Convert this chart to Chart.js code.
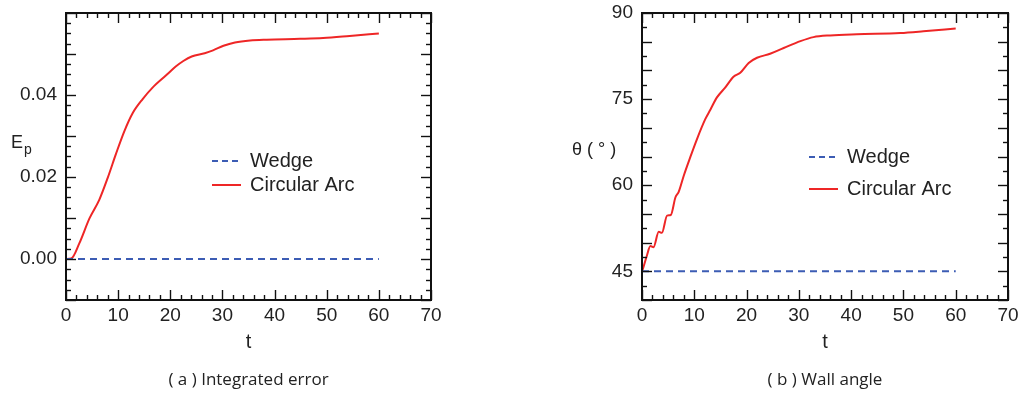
<!DOCTYPE html>
<html>
<head>
<meta charset="utf-8">
<script src="https://cdn.jsdelivr.net/npm/chart.js@4.4.1/dist/chart.umd.min.js"></script>
<style>
  html,body{margin:0;padding:0;background:#fff;}
  #wrap{position:relative;width:1023px;height:398px;}
  canvas{position:absolute;top:0;}
  #cA{left:0;} #cB{left:512px;}
</style>
</head>
<body>
<div id="wrap">
  <canvas id="cA" width="512" height="398"></canvas>
  <canvas id="cB" width="511" height="398"></canvas>
</div>
<script>
// ---- data ----
const seriesNames = ['Wedge', 'Circular Arc'];

// (a) integrated error
const tArcA  = [0, 1.0, 2.55, 4.5, 6.4, 8.0, 9.6, 11.2, 12.8, 14.7, 16.6, 19.2, 21.1, 22.5, 24.1, 26.6, 28.2, 30.2, 32.4, 35.3, 38.5, 44.9, 49.3, 54.4, 60];
const epArc  = [0, 0.0001, 0.0038, 0.0099, 0.0145, 0.0198, 0.0257, 0.0312, 0.0356, 0.0390, 0.0418, 0.0448, 0.0470, 0.0483, 0.0494, 0.0502, 0.0509, 0.0520, 0.0528, 0.0533, 0.0535, 0.0537, 0.0539, 0.0544, 0.0550];
const tWedgeA = [0, 60];
const epWedge = [0, 0];

// (b) wall angle
const tArcB    = [0, 0.2, 0.96, 1.6, 2.2, 3.2, 3.8, 4.8, 5.5, 6.4, 7.0, 8.0, 9.2, 10.5, 12.1, 13.1, 14.3, 15.9, 17.5, 18.8, 20.4, 22.0, 24.5, 27.1, 30.3, 32.8, 36.0, 41.1, 49.4, 53.8, 60];
const thetaArc = [45.0, 45.5, 47.8, 49.4, 49.2, 51.9, 51.7, 54.7, 54.8, 57.9, 58.8, 61.7, 64.8, 68.0, 71.5, 73.2, 75.25, 77.0, 78.9, 79.6, 81.3, 82.2, 82.9, 83.9, 85.1, 85.8, 86.1, 86.3, 86.5, 86.8, 87.3];
const tWedgeB = [0, 60];
const thetaWedge = [45, 45];

// tick labels
const xTicks = [0, 10, 20, 30, 40, 50, 60, 70];
const yTicksA = [0, 0.02, 0.04];
const yTickLabelsA = ['0.00', '0.02', '0.04'];
const yTicksB = [45, 60, 75, 90];
const yTickLabelsB = ['45', '60', '75', '90'];

const BLUE = '#3c5cb4', RED = '#ee2626';
const FONT = '"Liberation Sans", Arial, sans-serif';
const pts = (xs, ys) => xs.map((x, i) => ({x: x, y: ys[i]}));

// frame with inward ticks on all sides, horizontal y-title, legend and caption
const framePlugin = {
  id: 'frame',
  afterDraw(chart, args, o) {
    const {ctx, chartArea: a, scales: {x, y}} = chart;
    ctx.save();
    ctx.strokeStyle = '#111';
    ctx.lineWidth = 1.4;
    const seg = (x1, y1, x2, y2) => { ctx.beginPath(); ctx.moveTo(x1, y1); ctx.lineTo(x2, y2); ctx.stroke(); };
    let n = Math.round((x.max - x.min) / o.xMinor);
    for (let i = 0; i <= n; i++) {
      const v = x.min + i * o.xMinor;
      const px = Math.round(x.getPixelForValue(v)) + 0.5;
      const len = Math.abs(v / o.xMajor - Math.round(v / o.xMajor)) < 1e-6 ? 10 : 5;
      seg(px, a.bottom, px, a.bottom - len);
      seg(px, a.top, px, a.top + len);
    }
    n = Math.round((y.max - y.min) / o.yMinor);
    for (let i = 0; i <= n; i++) {
      const v = y.min + i * o.yMinor;
      const py = Math.round(y.getPixelForValue(v)) + 0.5;
      const len = Math.abs(v / o.yMajor - Math.round(v / o.yMajor)) < 1e-6 ? 10 : 5;
      seg(a.left, py, a.left + len, py);
      seg(a.right, py, a.right - len, py);
    }
    ctx.lineWidth = 2;
    ctx.strokeRect(a.left, a.top, a.right - a.left, a.bottom - a.top);

    // x title
    ctx.fillStyle = '#222';
    ctx.textBaseline = 'middle';
    ctx.textAlign = 'center';
    ctx.font = '20px ' + FONT;
    ctx.fillText('t', (a.left + a.right) / 2, a.bottom + 42);

    // y title (horizontal)
    ctx.textAlign = 'left';
    ctx.font = '18px ' + FONT;
    ctx.fillText(o.yTitle, o.yTitleX, o.yTitleY);
    if (o.yTitleSub) {
      const w = ctx.measureText(o.yTitle).width;
      ctx.font = '14px ' + FONT;
      ctx.fillText(o.yTitleSub, o.yTitleX + w + 1, o.yTitleY + 7);
    }

    // legend
    ctx.font = '20px ' + FONT;
    chart.data.datasets.forEach((ds, i) => {
      const lx = a.left + o.legX, ly = a.top + o.legY + i * o.legGap;
      ctx.strokeStyle = ds.borderColor;
      ctx.lineWidth = 2;
      ctx.setLineDash(ds.borderDash ? [6, 4] : []);
      seg(lx, ly, lx + 29, ly);
      ctx.setLineDash([]);
      ctx.fillStyle = '#222';
      ctx.fillText(ds.label, lx + 38, ly);
    });

    // caption
    ctx.textAlign = 'center';
    ctx.fillStyle = '#222';
    ctx.font = '17px "Open Sans", sans-serif';
    ctx.fillText(o.caption, (a.left + a.right) / 2, 380);
    ctx.restore();
  }
};

function makeChart(id, cfg) {
  return new Chart(document.getElementById(id), {
    type: 'line',
    data: {
      datasets: [
        {label: seriesNames[0], data: cfg.wedge, borderColor: BLUE, borderWidth: 2, borderDash: [7, 5], pointRadius: 0, tension: 0},
        {label: seriesNames[1], data: cfg.arc, borderColor: RED, borderWidth: 2, pointRadius: 0, cubicInterpolationMode: 'monotone'}
      ]
    },
    options: {
      responsive: false,
      animation: false,
      events: [],
      layout: {padding: {left: 0, right: cfg.padRight, top: 13, bottom: 0}},
      plugins: {legend: {display: false}, tooltip: {enabled: false}, frame: cfg.frame},
      scales: {
        x: {
          type: 'linear', min: 0, max: 70,
          grid: {display: false, drawTicks: false}, border: {display: false},
          afterBuildTicks: s => { s.ticks = xTicks.map(v => ({value: v})); },
          afterFit: s => { s.height = 98; s.paddingLeft = 0; s.paddingRight = 0; },
          ticks: {color: '#222', padding: 4, maxRotation: 0, autoSkip: false,
                  font: {family: FONT, size: 19}}
        },
        y: {
          type: 'linear', min: cfg.yMin, max: cfg.yMax,
          grid: {display: false, drawTicks: false}, border: {display: false},
          afterBuildTicks: s => { s.ticks = cfg.yTicks.map(v => ({value: v})); },
          afterFit: s => { s.width = cfg.yWidth; s.paddingTop = 0; s.paddingBottom = 0; },
          ticks: {color: '#222', padding: 9, autoSkip: false,
                  callback: (v) => cfg.yLabels[cfg.yTicks.indexOf(v)],
                  font: {family: FONT, size: 19}}
        }
      }
    },
    plugins: [framePlugin]
  });
}

makeChart('cA', {
  wedge: pts(tWedgeA, epWedge), arc: pts(tArcA, epArc),
  yMin: -0.01, yMax: 0.06, yTicks: yTicksA, yLabels: yTickLabelsA,
  yWidth: 66, padRight: 81,
  frame: {xMinor: 2, xMajor: 10, yMinor: 0.0025, yMajor: 0.01,
          yTitle: 'E', yTitleSub: 'p', yTitleX: 11, yTitleY: 143,
          legX: 146, legY: 148, legGap: 24, caption: '( a ) Integrated error'}
});

makeChart('cB', {
  wedge: pts(tWedgeB, thetaWedge), arc: pts(tArcB, thetaArc),
  yMin: 40, yMax: 90, yTicks: yTicksB, yLabels: yTickLabelsB,
  yWidth: 130, padRight: 15,
  frame: {xMinor: 2, xMajor: 10, yMinor: 2.5, yMajor: 5,
          yTitle: 'θ ( ° )', yTitleX: 572 - 512, yTitleY: 150,
          legX: 167, legY: 144, legGap: 32, caption: '( b ) Wall angle'}
});
</script>
</body>
</html>
